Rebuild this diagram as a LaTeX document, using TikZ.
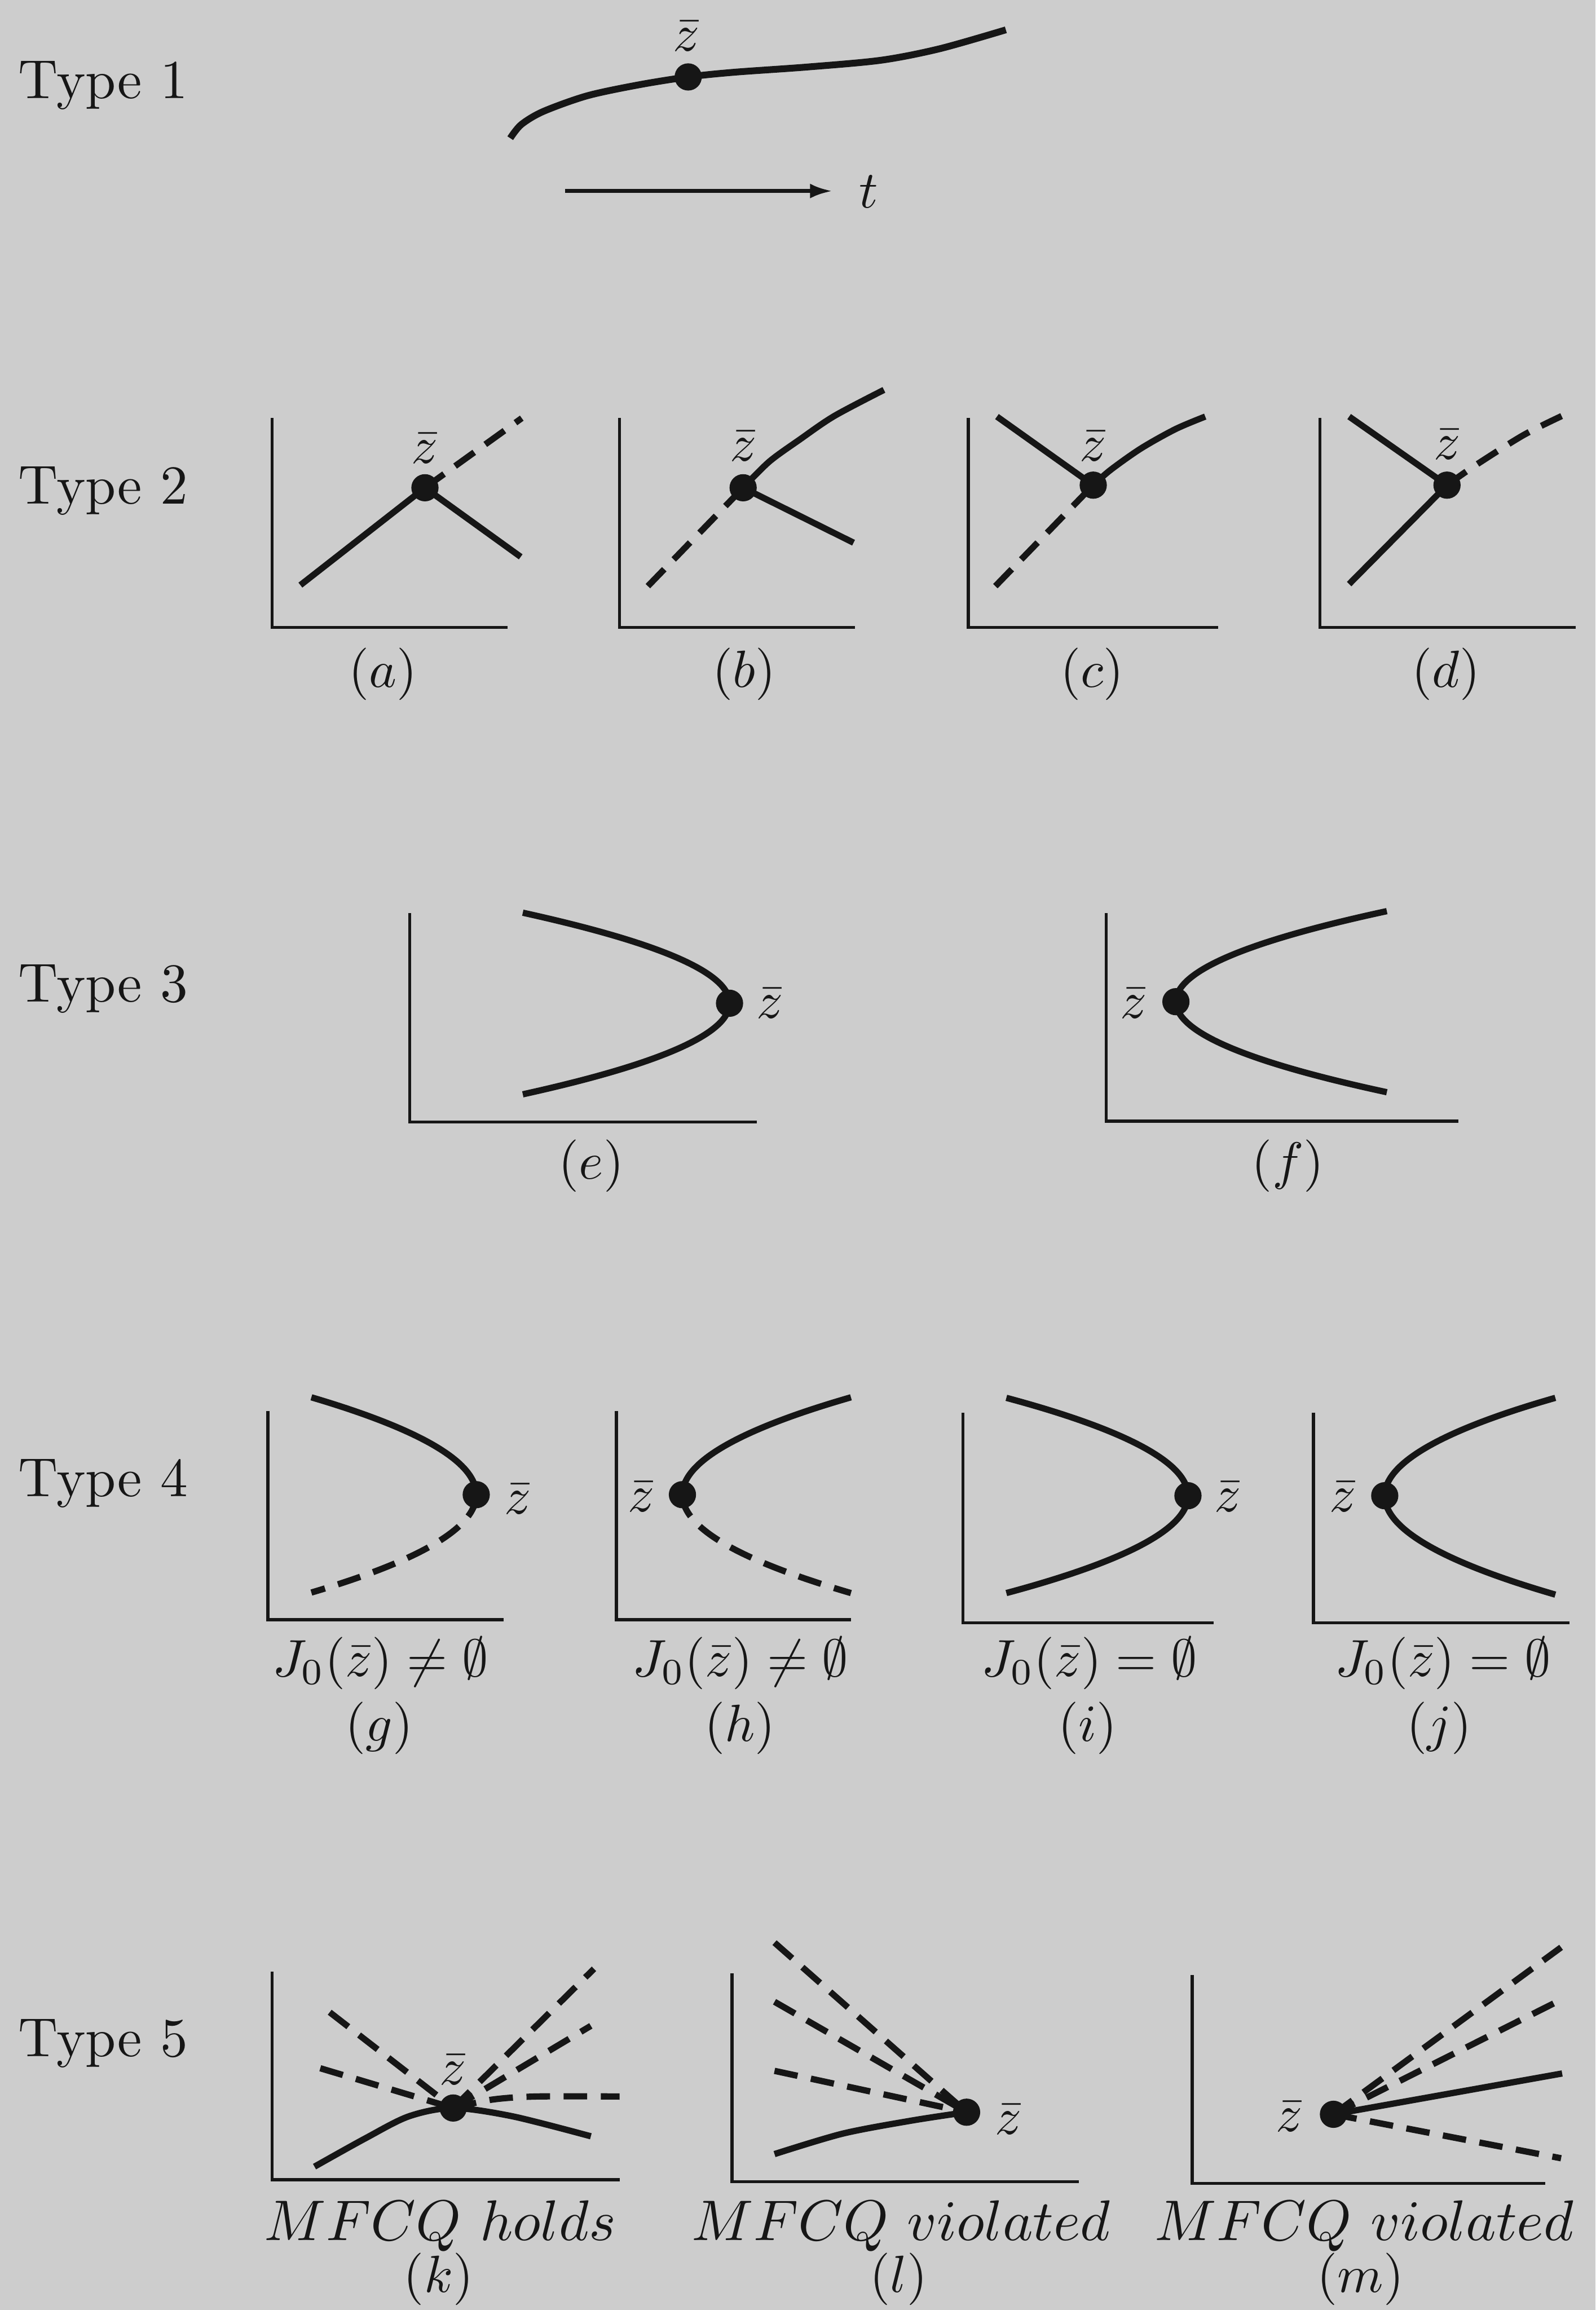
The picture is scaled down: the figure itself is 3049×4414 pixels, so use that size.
\documentclass[tikz,border=0pt]{standalone}
\usetikzlibrary{arrows.meta}
\definecolor{bg}{RGB}{205,205,205}
\definecolor{ink}{RGB}{22,22,22}
\begin{document}
\begin{tikzpicture}[x=0.1pt,y=-0.1pt,
  axisln/.style={line width=0.6pt, draw=ink},
  crv/.style={line width=1.2pt, draw=ink},
  dsh/.style={crv, dash pattern=on 4.5pt off 2.6pt},
  zdot/.style={circle, fill=ink, inner sep=0pt, minimum size=5.2pt},
  zlab/.style={inner sep=0pt, text=ink, font=\fontsize{10}{12}\selectfont},
  caplab/.style={inner sep=0pt, text=ink, font=\fontsize{10}{12}\selectfont},
  condlab/.style={inner sep=0pt, text=ink, font=\fontsize{10.3}{12}\selectfont},
  mflab/.style={inner sep=0pt, text=ink, font=\fontsize{11}{13}\selectfont},
  typelab/.style={inner sep=0pt, anchor=base west, text=ink, font=\fontsize{10.5}{12}\selectfont}]
\fill[bg] (0,0) rectangle (3049,4414);
\useasboundingbox (0,0) rectangle (3049,4414);

% Type labels
\node[typelab] (t1) at (33,188) {Type 1};
\node[typelab] (t2) at (33,963) {Type 2};
\node[typelab] (t3) at (33,1914) {Type 3};
\node[typelab] (t4) at (33,2860) {Type 4};
\node[typelab] (t5) at (33,3930) {Type 5};

% ---------- Type 1
\coordinate (c1s) at (975,264);
\coordinate (z1) at (1315,147);
\coordinate (c1e) at (1922,57);
\draw[crv, line width=1.3pt] plot[smooth] coordinates {(c1s) (996,238) (1038,213) (1122,183) (1221,162) (z1) (1403,138) (1543,128) (1684,115) (1796,93) (c1e)};
\node[zdot] (d1) at (z1) {};
\node[zlab, anchor=base] (l1) at (1312,97) {$\bar z$};
\coordinate (ar1) at (1080,365);
\coordinate (ar2) at (1590,365);
\draw[line width=0.7pt, draw=ink, -{Latex[length=4.2pt,width=2.8pt]}] (ar1) -- (ar2);
\node[zlab, anchor=base] (tl) at (1660,397) {$t$};

% ---------- Type 2 (a)
\coordinate (aT) at (520,799); \coordinate (aR) at (970,1199);
\draw[axisln] (aT) |- (aR);
\coordinate (za) at (812,932);
\coordinate (a1) at (574,1118); \coordinate (a2) at (995,1064); \coordinate (a3) at (997,799);
\draw[crv] (a1) -- (za) -- (a2);
\draw[dsh] (za) -- (a3);
\node[zdot] (da) at (za) {};
\node[zlab] (la) at (812,857) {$\bar z$};
\node[caplab] (ca) at (732,1288) {$(a)$};

% (b)
\coordinate (bT) at (1184,799); \coordinate (bR) at (1634,1199);
\draw[axisln] (bT) |- (bR);
\coordinate (zb) at (1420,932);
\coordinate (b1) at (1238,1120); \coordinate (b2) at (1631,1037); \coordinate (b3) at (1689,745);
\draw[dsh] (b1) -- (zb);
\draw[crv] (zb) -- (b2);
\draw[crv] plot[smooth] coordinates {(zb) (1470,882) (1528,840) (1594,795) (b3)};
\node[zdot] (db) at (zb) {};
\node[zlab] (lb) at (1420,853) {$\bar z$};
\node[caplab] (cb) at (1422,1288) {$(b)$};

% (c)
\coordinate (cT) at (1850,799); \coordinate (cR) at (2328,1199);
\draw[axisln] (cT) |- (cR);
\coordinate (zc) at (2089,927);
\coordinate (c1) at (1905,796); \coordinate (c2) at (2303,796); \coordinate (c3) at (1902,1120);
\draw[crv] (c1) -- (zc);
\draw[crv] plot[smooth] coordinates {(zc) (2122,898) (2180,857) (2246,820) (c2)};
\draw[dsh] (c3) -- (zc);
\node[zdot] (dc) at (zc) {};
\node[zlab] (lc) at (2089,853) {$\bar z$};
\node[caplab] (cc) at (2087,1288) {$(c)$};

% (d)
\coordinate (dT) at (2522,799); \coordinate (dR) at (3011,1199);
\draw[axisln] (dT) |- (dR);
\coordinate (zd) at (2765,927);
\coordinate (d1a) at (2578,796); \coordinate (d2a) at (2578,1116); \coordinate (d3a) at (2984,795);
\draw[crv] (d1a) -- (zd) -- (d2a);
\draw[dsh] plot[smooth] coordinates {(zd) (2818,890) (2910,832) (d3a)};
\node[zdot] (dd) at (zd) {};
\node[zlab] (ld) at (2765,849) {$\bar z$};
\node[caplab] (cd) at (2763,1288) {$(d)$};

% ---------- Type 3 (e)
\coordinate (eT) at (783,1745); \coordinate (eR) at (1446,2144);
\draw[axisln] (eT) |- (eR);
\coordinate (ze) at (1394,1917);
\coordinate (e1) at (999,1744); \coordinate (e2) at (999,2091);
\draw[crv] (e1) .. controls (1262,1802) and (1394,1859) .. (ze)
               .. controls (1394,1975) and (1262,2033) .. (e2);
\node[zdot] (de) at (ze) {};
\node[zlab] (le) at (1471,1917) {$\bar z$};
\node[caplab] (ce) at (1130,2228) {$(e)$};

% (f)
\coordinate (fT) at (2114,1745); \coordinate (fR) at (2787,2142);
\draw[axisln] (fT) |- (fR);
\coordinate (zf) at (2247,1914);
\coordinate (f1) at (2650,1741); \coordinate (f2) at (2650,2087);
\draw[crv] (f1) .. controls (2381,1799) and (2247,1856) .. (zf)
               .. controls (2247,1972) and (2381,2029) .. (f2);
\node[zdot] (df) at (zf) {};
\node[zlab] (lf) at (2166,1917) {$\bar z$};
\node[caplab] (cf) at (2461,2228) {$(f)$};

% ---------- Type 4 (g)
\coordinate (gT) at (512,2696); \coordinate (gR) at (962,3095);
\draw[axisln] (gT) |- (gR);
\coordinate (zg) at (910,2856);
\coordinate (g1) at (595,2670); \coordinate (g2) at (595,3043);
\draw[crv] (g1) .. controls (805,2732) and (910,2794) .. (zg);
\draw[dsh] (zg) .. controls (910,2918) and (805,2981) .. (g2);
\node[zdot] (dg) at (zg) {};
\node[zlab] (lg) at (989,2865) {$\bar z$};
\node[condlab] (jg) at (727,3178) {$J_0(\bar z)\neq\emptyset$};
\node[caplab] (cg) at (725,3302) {$(g)$};

% (h)
\coordinate (hT) at (1178,2696); \coordinate (hR) at (1626,3095);
\draw[axisln] (hT) |- (hR);
\coordinate (zh) at (1304,2856);
\coordinate (h1) at (1626,2670); \coordinate (h2) at (1626,3044);
\draw[crv] (h1) .. controls (1411,2732) and (1304,2794) .. (zh);
\draw[dsh] (zh) .. controls (1304,2919) and (1411,2981) .. (h2);
\node[zdot] (dh) at (zh) {};
\node[zlab] (lh) at (1225,2860) {$\bar z$};
\node[condlab] (jh) at (1415,3178) {$J_0(\bar z)\neq\emptyset$};
\node[caplab] (ch) at (1414,3302) {$(h)$};

% (i)
\coordinate (iT) at (1840,2699); \coordinate (iR) at (2319,3101);
\draw[axisln] (iT) |- (iR);
\coordinate (zi) at (2270,2858);
\coordinate (i1) at (1923,2671); \coordinate (i2) at (1923,3044);
\draw[crv] (i1) .. controls (2154,2733) and (2270,2796) .. (zi)
               .. controls (2270,2920) and (2154,2982) .. (i2);
\node[zdot] (di) at (zi) {};
\node[zlab] (li) at (2346,2860) {$\bar z$};
\node[condlab] (ji) at (2082,3178) {$J_0(\bar z)=\emptyset$};
\node[caplab] (ci) at (2078,3302) {$(i)$};

% (j)
\coordinate (jT) at (2510,2699); \coordinate (jR) at (2999,3101);
\draw[axisln] (jT) |- (jR);
\coordinate (zj) at (2646,2858);
\coordinate (j1) at (2972,2671); \coordinate (j2) at (2972,3047);
\draw[crv] (j1) .. controls (2755,2733) and (2646,2796) .. (zj)
               .. controls (2646,2921) and (2755,2984) .. (j2);
\node[zdot] (dj) at (zj) {};
\node[zlab] (lj) at (2566,2860) {$\bar z$};
\node[condlab] (jj) at (2757,3178) {$J_0(\bar z)=\emptyset$};
\node[caplab] (cj) at (2750,3302) {$(j)$};

% ---------- Type 5 (k)
\coordinate (kT) at (520,3767); \coordinate (kR) at (1184,4165);
\draw[axisln] (kT) |- (kR);
\coordinate (zk) at (866,4028);
\coordinate (k1) at (601,4140); \coordinate (k2) at (1129,4082);
\coordinate (k3) at (630,3845); \coordinate (k4) at (612,3952);
\coordinate (k5) at (1135,3762); \coordinate (k6) at (1129,3871); \coordinate (k7) at (1184,4006);
\draw[dsh] (k3) -- (zk);
\draw[dsh] (k4) -- (zk);
\draw[dsh] (zk) -- (k5);
\draw[dsh] (zk) -- (k6);
\draw[dsh] plot[smooth] coordinates {(zk) (940,4012) (1024,4006) (k7)};
\draw[crv] plot[smooth] coordinates {(k1) (698,4086) (781,4044) (zk) (980,4044) (k2)};
\node[zdot] (dk) at (zk) {};
\node[zlab] (lk) at (866,3955) {$\bar z$};
\node[mflab, anchor=base] (mk) at (841,4281) {$MFCQ\ holds$};
\node[caplab] (ck) at (838,4355) {$(k)$};

% (l)
\coordinate (lT) at (1399,3771); \coordinate (lR) at (2061,4169);
\draw[axisln] (lT) |- (lR);
\coordinate (zl) at (1847,4036);
\coordinate (l1) at (1480,4116); \coordinate (l2) at (1480,3712);
\coordinate (l3) at (1480,3825); \coordinate (l4) at (1480,3957);
\draw[dsh] (l2) -- (zl);
\draw[dsh] (l3) -- (zl);
\draw[dsh] (l4) -- (zl);
\draw[crv] plot[smooth] coordinates {(l1) (1610,4077) (1742,4052) (zl)};
\node[zdot] (dl) at (zl) {};
\node[zlab] (ll) at (1927,4050) {$\bar z$};
\node[mflab, anchor=base] (ml) at (1722,4281) {$MFCQ\ violated$};
\node[caplab] (cl) at (1717,4355) {$(l)$};

% (m)
\coordinate (mT) at (2278,3774); \coordinate (mR) at (2953,4172);
\draw[axisln] (mT) |- (mR);
\coordinate (zm) at (2548,4040);
\coordinate (m1) at (2985,3962); \coordinate (m2) at (2983,3721);
\coordinate (m3) at (2983,3821); \coordinate (m4) at (2983,4124);
\draw[dsh] (zm) -- (m2);
\draw[dsh] (zm) -- (m3);
\draw[dsh] (zm) -- (m4);
\draw[crv] (zm) -- (m1);
\node[zdot] (dm) at (zm) {};
\node[zlab] (lm) at (2464,4044) {$\bar z$};
\node[mflab, anchor=base] (mm) at (2607,4281) {$MFCQ\ violated$};
\node[caplab] (cm) at (2600,4355) {$(m)$};
\end{tikzpicture}
\end{document}
